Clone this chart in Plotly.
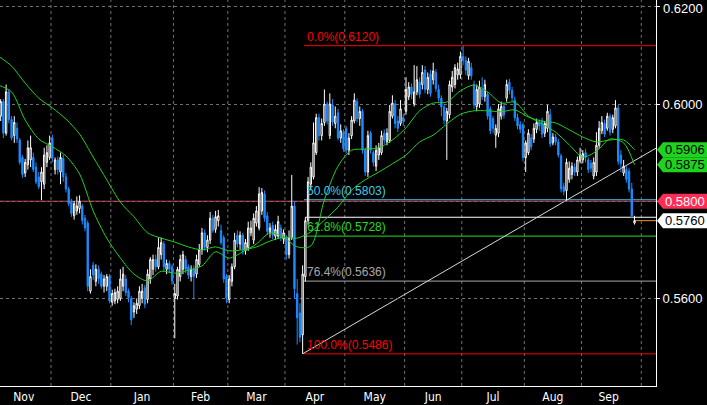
import pandas as pd
import plotly.graph_objects as go

# ---------------- data (NZD/USD daily) ----------------
opens = [
    .5990, .5975, .6005, .5940, .6025, .5968, .5935, .5950, .5926, .5890,
    .5858, .5875, .5885, .5890, .5870, .5850, .5840, .5835, .5880, .5890,
    .5930, .5865, .5885, .5860, .5888, .5850, .5825, .5800, .5770, .5780,
    .5785, .5790, .5765, .5755, .5615, .5668, .5635, .5660, .5650, .5625,
    .5625, .5645, .5592, .5595, .5598, .5600, .5625, .5640, .5615, .5600,
    .5572, .5578, .5585, .5600, .5622, .5598, .5640, .5660, .5680, .5665,
    .5690, .5712, .5660, .5672, .5665, .5600, .5605, .5645, .5660, .5680,
    .5665, .5645, .5660, .5650, .5670, .5700, .5735, .5705, .5720, .5765,
    .5742, .5760, .5740, .5725, .5645, .5598, .5635, .5665, .5730, .5712,
    .5730, .5698, .5705, .5735, .5720, .5755, .5745, .5780, .5815, .5770,
    .5735, .5750, .5728, .5728, .5745, .5722, .5725, .5690, .5725, .5790,
    .5610, .5570, .5525, .5645, .5760, .5835, .5850, .5900, .5972, .5935,
    .5962, .6000, .5935, .5998, .5960, .5982, .5930, .5942, .5950, .5905,
    .5935, .5965, .6005, .5970, .5985, .5905, .5860, .5940, .5900, .5872,
    .5895, .5900, .5940, .5922, .5925, .5975, .6000, .5965, .5960, .5972,
    .5985, .6015, .6035, .6000, .6025, .6045, .6040, .6070, .6030, .6062,
    .6050, .6065, .6030, .6012, .5994, .5965, .5978, .6035, .6040, .6060,
    .6060, .6098, .6090, .6058, .6075, .6040, .5995, .6000, .6030, .6015,
    .6020, .5990, .5970, .5936, .5940, .5975, .5995, .6012, .6045, .6028,
    .6008, .5972, .5958, .5957, .5890, .5900, .5930, .5928, .5948, .5962,
    .5965, .5940, .5950, .5978, .5920, .5932, .5922, .5893, .5830, .5822,
    .5845, .5855, .5870, .5860, .5883, .5885, .5900, .5885, .5878, .5852,
    .5860, .5915, .5945, .5960, .5950, .5975, .5948, .5955, .5992, .5895,
    .5858, .5865, .5862, .5825, .5755,
]
highs = [
    .6005, .6010, .6010, .6040, .6030, .5975, .5975, .5962, .5930, .5895,
    .5887, .5925, .5935, .5900, .5880, .5860, .5870, .5910, .5915, .5935,
    .5937, .5890, .5892, .5900, .5895, .5858, .5830, .5805, .5800, .5810,
    .5812, .5795, .5772, .5760, .5660, .5675, .5670, .5668, .5655, .5648,
    .5650, .5650, .5618, .5620, .5625, .5660, .5665, .5648, .5620, .5605,
    .5592, .5600, .5625, .5630, .5628, .5660, .5685, .5690, .5690, .5726,
    .5725, .5718, .5680, .5678, .5670, .5630, .5665, .5690, .5698, .5688,
    .5670, .5668, .5668, .5690, .5712, .5745, .5742, .5730, .5778, .5772,
    .5780, .5782, .5752, .5730, .5650, .5648, .5672, .5735, .5740, .5738,
    .5735, .5722, .5758, .5760, .5775, .5790, .5829, .5827, .5822, .5778,
    .5755, .5758, .5752, .5770, .5752, .5742, .5730, .5740, .5854, .5800,
    .5640, .5590, .5668, .5767, .5850, .5880, .5962, .5980, .5980, .5970,
    .6030, .6005, .6022, .6010, .5995, .5990, .5958, .5948, .5955, .5940,
    .5975, .6022, .6012, .5995, .5990, .5910, .5945, .5945, .5905, .5915,
    .5920, .5945, .5948, .5950, .5998, .6018, .6008, .5975, .6008, .5980,
    .6055, .6045, .6042, .6080, .6078, .6055, .6080, .6078, .6065, .6070,
    .6085, .6072, .6040, .6018, .6000, .5992, .6048, .6068, .6082, .6085,
    .6108, .6120, .6098, .6095, .6085, .6048, .6040, .6048, .6055, .6050,
    .6025, .5995, .5975, .5958, .6000, .6005, .6002, .6050, .6052, .6035,
    .6015, .5980, .5965, .5962, .5925, .5948, .5938, .5960, .5970, .5968,
    .5972, .5965, .5998, .5990, .5940, .5938, .5928, .5898, .5838, .5888,
    .5882, .5880, .5878, .5892, .5910, .5905, .5908, .5890, .5885, .5890,
    .5942, .5965, .5975, .5968, .5982, .5980, .5978, .6008, .5998, .5905,
    .5885, .5872, .5868, .5838, .5770,
]
lows = [
    .5965, .5965, .5930, .5935, .5960, .5925, .5920, .5920, .5875, .5848,
    .5850, .5865, .5870, .5860, .5835, .5825, .5802, .5825, .5870, .5885,
    .5880, .5855, .5855, .5835, .5840, .5818, .5790, .5768, .5762, .5772,
    .5775, .5752, .5738, .5615, .5610, .5638, .5625, .5630, .5620, .5612,
    .5615, .5590, .5585, .5588, .5590, .5595, .5615, .5605, .5592, .5545,
    .5560, .5568, .5578, .5590, .5580, .5590, .5630, .5648, .5655, .5660,
    .5680, .5655, .5650, .5652, .5628, .5518, .5598, .5635, .5650, .5652,
    .5640, .5635, .5598, .5642, .5665, .5690, .5698, .5695, .5712, .5735,
    .5735, .5748, .5710, .5632, .5590, .5590, .5625, .5660, .5705, .5700,
    .5690, .5690, .5698, .5728, .5712, .5748, .5740, .5772, .5758, .5730,
    .5725, .5722, .5720, .5722, .5718, .5712, .5680, .5682, .5720, .5600,
    .5505, .5510, .5486, .5635, .5752, .5825, .5845, .5895, .5925, .5925,
    .5955, .5958, .5928, .5955, .5950, .5925, .5920, .5902, .5898, .5895,
    .5928, .5960, .5962, .5955, .5898, .5852, .5850, .5898, .5872, .5862,
    .5885, .5895, .5918, .5915, .5920, .5970, .5950, .5942, .5955, .5955,
    .5978, .6008, .6010, .5995, .6018, .6012, .6030, .6022, .6020, .6015,
    .6040, .6025, .6005, .5975, .5958, .5885, .5970, .6025, .6032, .6050,
    .6052, .6080, .6060, .6050, .6050, .5990, .5985, .5992, .6008, .6005,
    .5968, .5938, .5940, .5910, .5932, .5968, .5970, .6005, .6020, .6005,
    .5965, .5948, .5940, .5882, .5860, .5895, .5905, .5920, .5940, .5945,
    .5930, .5932, .5942, .5912, .5915, .5915, .5890, .5818, .5812, .5802,
    .5838, .5845, .5852, .5852, .5878, .5878, .5880, .5858, .5860, .5845,
    .5852, .5908, .5938, .5932, .5945, .5935, .5940, .5950, .5875, .5860,
    .5852, .5838, .5818, .5765, .5752,
]
closes = [
    .5975, .6005, .5940, .6025, .5968, .5930, .5962, .5928, .5880, .5855,
    .5880, .5910, .5910, .5865, .5840, .5830, .5860, .5895, .5900, .5920,
    .5888, .5885, .5865, .5890, .5850, .5825, .5795, .5775, .5795, .5790,
    .5800, .5760, .5745, .5625, .5645, .5648, .5660, .5640, .5625, .5640,
    .5645, .5595, .5610, .5612, .5615, .5640, .5650, .5612, .5602, .5556,
    .5585, .5590, .5615, .5615, .5588, .5650, .5680, .5680, .5665, .5705,
    .5715, .5665, .5672, .5660, .5636, .5610, .5660, .5680, .5690, .5660,
    .5648, .5660, .5645, .5680, .5700, .5735, .5705, .5720, .5765, .5740,
    .5768, .5770, .5715, .5640, .5600, .5640, .5665, .5720, .5712, .5730,
    .5700, .5715, .5745, .5745, .5765, .5780, .5815, .5818, .5765, .5738,
    .5745, .5730, .5742, .5758, .5725, .5735, .5690, .5725, .5790, .5620,
    .5560, .5520, .5650, .5760, .5840, .5870, .5920, .5972, .5935, .5960,
    .6000, .5965, .6000, .5963, .5975, .5930, .5945, .5908, .5905, .5930,
    .5967, .6008, .5970, .5985, .5905, .5860, .5935, .5905, .5880, .5905,
    .5910, .5935, .5926, .5940, .5985, .6002, .5960, .5950, .5990, .5965,
    .6030, .6035, .6020, .6025, .6050, .6020, .6065, .6030, .6055, .6022,
    .6068, .6032, .6012, .5994, .5967, .5985, .6040, .6055, .6075, .6072,
    .6098, .6090, .6070, .6088, .6058, .5998, .6030, .6035, .6015, .6040,
    .5975, .5945, .5950, .5950, .5990, .5995, .5978, .6040, .6028, .6013,
    .5972, .5955, .5948, .5890, .5920, .5940, .5912, .5950, .5962, .5955,
    .5938, .5960, .5985, .5918, .5932, .5922, .5895, .5825, .5820, .5880,
    .5868, .5872, .5860, .5885, .5895, .5898, .5890, .5865, .5868, .5880,
    .5915, .5950, .5962, .5938, .5975, .5942, .5972, .5992, .5882, .5878,
    .5872, .5845, .5825, .5770, .5760,
]

# moving averages, read weekly (every 5th session, plus the last one)
ma_fast = [
    .6039, .6025, .5967, .5928, .5912, .5893, .5856, .5780, .5724, .5683,
    .5650, .5636, .5656, .5652, .5658, .5667, .5696, .5683, .5696, .5712,
    .5735, .5726, .5706, .5708, .5803, .5872, .5905, .5907, .5910, .5926,
    .5951, .5986, .6002, .6004, .6027, .6039, .6025, .6002, .6004, .5975,
    .5959, .5942, .5916, .5891, .5903, .5928, .5920, .5875,
]
ma_slow = [
    .6099, .6078, .6043, .6012, .5992, .5969, .5938, .5891, .5844, .5798,
    .5768, .5735, .5724, .5716, .5706, .5700, .5706, .5698, .5700, .5706,
    .5718, .5726, .5724, .5737, .5761, .5788, .5823, .5844, .5860, .5877,
    .5895, .5922, .5936, .5959, .5979, .5986, .5986, .5984, .5988, .5973,
    .5965, .5961, .5947, .5932, .5922, .5926, .5926, .5906,
]

month_names = ["Nov", "Dec", "Jan", "Feb", "Mar", "Apr", "May", "Jun", "Jul", "Aug", "Sep"]
fib_ratios = [0.0, 0.5, 0.618, 0.764, 1.0]
fib_colors = ["#ff0000", "#3ccbea", "#22dd22", "#a8a8a8", "#ff0000"]
level_red = 0.5800
trend_anchor_dates = ["2025-04-09", "2025-08-22"]
y_ticks = [0.56, 0.58, 0.60, 0.62]
y_ticktext = ["0.5600", "", "0.6000", ""]
top_label = "0.6200"

# ---------------- derived ----------------
dates = pd.bdate_range("2024-11-04", "2025-09-26")
n = len(dates)
assert n == len(closes) == len(opens) == len(highs) == len(lows)
xs = list(range(n))
ma_x = list(range(0, n - 4, 5)) + [n - 1]
assert len(ma_x) == len(ma_fast) == len(ma_slow)

X0, X1 = 0.75, 241.9
Y0, Y1 = 0.54198, 0.62140

BG = "black"
BLUE = "#1f8bff"
GREEN = "#1fd21f"
GRID = "#707070"
DASH = "3px,3px"
FONT = "Liberation Sans, Arial, sans-serif"

fig = go.Figure()

fig.add_trace(go.Candlestick(
    x=xs, open=opens, high=highs, low=lows, close=closes,
    increasing=dict(line=dict(color="white", width=1), fillcolor="black"),
    decreasing=dict(line=dict(color=BLUE, width=1), fillcolor=BLUE),
    whiskerwidth=0, showlegend=False, hoverinfo="skip",
))
fig.add_trace(go.Scatter(x=ma_x, y=ma_slow, mode="lines",
                         line=dict(color=GREEN, width=1, shape="spline", smoothing=0.8),
                         showlegend=False, hoverinfo="skip"))
fig.add_trace(go.Scatter(x=ma_x, y=ma_fast, mode="lines",
                         line=dict(color=GREEN, width=1, shape="spline", smoothing=0.8),
                         showlegend=False, hoverinfo="skip"))

shapes = []
annotations = []

# month boundaries (vertical dashed grid) and month-centre labels
mser = pd.Series(range(n), index=dates)
tickvals, ticktext = [], []
for (yy, mm), grp in mser.groupby([dates.year, dates.month]):
    first, last = int(grp.iloc[0]), int(grp.iloc[-1])
    tickvals.append((first + last) / 2)
    ticktext.append(month_names[len(ticktext)])
    if first > 0:
        shapes.append(dict(type="line", xref="x", yref="paper", x0=first - 0.5, x1=first - 0.5,
                           y0=0, y1=1, line=dict(color=GRID, width=1, dash=DASH), layer="below"))
shapes.append(dict(type="line", xref="x", yref="paper", x0=n + 1.5, x1=n + 1.5,
                   y0=0, y1=1, line=dict(color=GRID, width=1, dash=DASH), layer="below"))

# Fibonacci retracement
fib_high = max(highs)
fib_low = min(lows)
i_low = lows.index(fib_low)
for r, col in zip(fib_ratios, fib_colors):
    lvl = fib_high - r * (fib_high - fib_low)
    shapes.append(dict(type="line", xref="x", yref="y", x0=i_low + 0.5, x1=X1, y0=lvl, y1=lvl,
                       line=dict(color=col, width=1), layer="below"))
    annotations.append(dict(x=i_low + 1.0, y=lvl, xref="x", yref="y", xanchor="left",
                            yanchor="bottom", showarrow=False,
                            text=f"{r*100:.1f}%({lvl:.4f})",
                            font=dict(color=col, size=12, family=FONT)))

# horizontal levels
shapes.append(dict(type="line", xref="x", yref="y", x0=X0, x1=X1, y0=level_red, y1=level_red,
                   line=dict(color="#f03250", width=1), layer="below"))
i_wl = i_low + 1
shapes.append(dict(type="line", xref="x", yref="y", x0=i_wl, x1=X1, y0=highs[i_wl], y1=highs[i_wl],
                   line=dict(color="white", width=1), layer="below"))
shapes.append(dict(type="line", xref="x", yref="y", x0=n - 1, x1=X1, y0=closes[-1], y1=closes[-1],
                   line=dict(color="#ff8c1a", width=1), layer="below"))

# trend line through the April and August lows
ta = [list(dates.strftime("%Y-%m-%d")).index(d) for d in trend_anchor_dates]
slope = (lows[ta[1]] - lows[ta[0]]) / (ta[1] - ta[0])
shapes.append(dict(type="line", xref="x", yref="y", x0=ta[0], y0=lows[ta[0]],
                   x1=X1, y1=lows[ta[0]] + slope * (X1 - ta[0]),
                   line=dict(color="#d8d8d8", width=1), layer="below"))

# price tags on the right axis
def py(p):
    return (p - Y0) / (Y1 - Y0)

tags = [
    (ma_slow[-1], GREEN, "black"),
    (ma_fast[-1], GREEN, "black"),
    (level_red, "#ff2d55", "white"),
    (closes[-1], "white", "black"),
]
h = 7.5 / 386
xt, xl, xr = 657 / 656, 663 / 656, 709 / 656
for val, fill, tcol in tags:
    c = py(val)
    path = f"M {xt} {c} L {xl} {c+h} L {xr} {c+h} L {xr} {c-h} L {xl} {c-h} Z"
    shapes.append(dict(type="path", xref="paper", yref="paper", path=path,
                       fillcolor=fill, line=dict(width=0), layer="above"))
    annotations.append(dict(x=(xl + 706 / 656) / 2, y=c, xref="paper", yref="paper",
                            xanchor="center", yanchor="middle", showarrow=False,
                            text=f"{val:.4f}",
                            font=dict(color=tcol, size=13, family=FONT)))

# top axis label (would be hidden as a regular tick label at the very edge)
annotations.append(dict(x=1, y=py(0.62), xref="paper", yref="paper", xanchor="left",
                        yanchor="middle", xshift=5, yshift=-2, showarrow=False, text=top_label,
                        font=dict(color="white", size=13, family=FONT)))

fig.update_layout(
    width=707, height=405,
    margin=dict(l=0, r=51, t=0, b=19, pad=0),
    paper_bgcolor=BG, plot_bgcolor=BG,
    shapes=shapes, annotations=annotations,
    showlegend=False,
    xaxis=dict(range=[X0, X1], tickmode="array", tickvals=tickvals, ticktext=ticktext,
               showgrid=False, zeroline=False, showline=True, linecolor="white", linewidth=1,
               ticks="", rangeslider=dict(visible=False), automargin=False,
               tickfont=dict(color="white", size=12,
                             family="Liberation Sans Narrow, DejaVu Sans Condensed, sans-serif")),
    yaxis=dict(range=[Y0, Y1], side="right", tickmode="array",
               tickvals=y_ticks, ticktext=y_ticktext,
               showgrid=True, gridcolor=GRID, griddash=DASH, gridwidth=1,
               zeroline=False, showline=True, linecolor="white", linewidth=1,
               ticks="outside", ticklen=3, tickcolor="white", automargin=False,
               tickfont=dict(color="white", size=13, family=FONT)),
)

fig.write_html("out.html", config={"displayModeBar": False},
               post_script="document.body.style.margin='0';document.body.style.background='black';")
